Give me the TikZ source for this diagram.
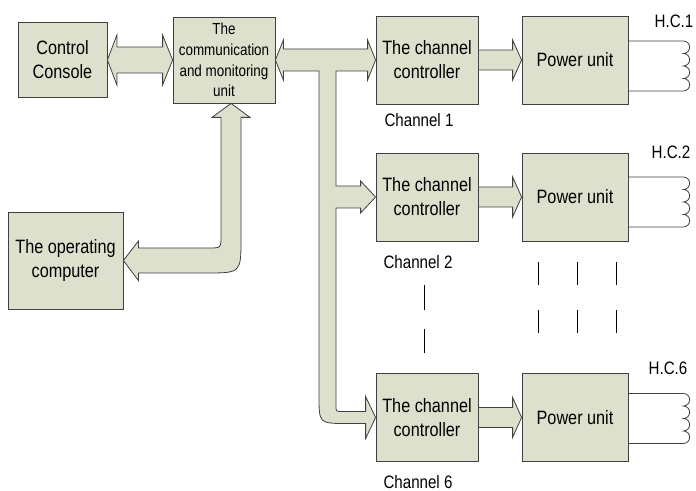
\documentclass[tikz,border=0pt]{standalone}
\usepackage{fontspec}
\usepackage{tikz}
\usetikzlibrary{calc}
\newfontfamily\boxfont[FakeStretch=0.84]{Liberation Sans}
\definecolor{BlockFill}{HTML}{DDE0CC}
\definecolor{EdgeGray}{HTML}{404040}

% block arrow from the east side of one box to the west side of the next
\newcommand{\feedarrow}[2]{%
  \draw[pipe] ($(#1.east)+(0,-10)$) -- ($(#2.west)+(-9,-10)$) -- ++(0,-10)
    -- (#2.west) -- ++(-9,20) -- ++(0,-10) -- ($(#1.east)+(0,10)$) -- cycle;}
% leads and winding of a heating coil
\newcommand{\heatcoil}[2]{%
  \draw[wire] ($(#1.east)+(0,#2)$) -- ++(55,0)
    arc[start angle=-90,end angle=90,radius=6.25]
    arc[start angle=-90,end angle=90,radius=6.25]
    arc[start angle=-90,end angle=90,radius=6.25]
    arc[start angle=-90,end angle=90,radius=6.25] -- ++(-55,0);}

\tikzset{
  unitbox/.style={draw=EdgeGray, fill=BlockFill, line width=0.6pt,
    align=center, inner sep=2pt, font=\boxfont\fontsize{14.5}{18}\selectfont},
  pipe/.style={draw=EdgeGray, fill=BlockFill, line width=0.6pt},
  wire/.style={draw=EdgeGray, line width=0.6pt},
  tag/.style={font=\boxfont\fontsize{13.5}{16}\selectfont},
  gap/.style={draw=black, line width=0.5pt}
}

\begin{document}
\begin{tikzpicture}[x=0.75pt, y=-0.75pt]
  \useasboundingbox (0,0) rectangle (696,491);

  % boxes
  \node[unitbox, minimum width=66.75pt, minimum height=56.25pt] (con) at (62.5,60) {Control\\Console};
  \node[unitbox, minimum width=76.5pt, minimum height=64.5pt,
    font=\boxfont\fontsize{12}{15.5}\selectfont] (com) at (224,60)
    {The\\communication\\and monitoring\\unit};
  \node[unitbox, minimum width=86.25pt, minimum height=72.75pt] (opc) at (65.5,260.5) {The operating\\computer};

  \node[unitbox, minimum width=76.5pt, minimum height=66pt] (cc1) at (427,60) {The channel\\controller};
  \node[unitbox, minimum width=76.5pt, minimum height=66pt] (cc2) at (427,197) {The channel\\controller};
  \node[unitbox, minimum width=76.5pt, minimum height=66pt] (cc6) at (427,417.5) {The channel\\controller};
  \node[unitbox, minimum width=79.5pt, minimum height=66pt] (pu1) at (575,60) {Power unit};
  \node[unitbox, minimum width=79.5pt, minimum height=66pt] (pu2) at (575,197) {Power unit};
  \node[unitbox, minimum width=79.5pt, minimum height=66pt] (pu6) at (575,417.5) {Power unit};

  % labels
  \node[tag] (ch1) at (419,120) {Channel 1};
  \node[tag] (ch2) at (418,262) {Channel 2};
  \node[tag] (ch6) at (418,482) {Channel 6};
  \node[tag] (hc1) at (674,21) {H.C.1};
  \node[tag] (hc2) at (671,152) {H.C.2};
  \node[tag] (hc6) at (668,368) {H.C.6};

  % console <-> communication unit
  \draw[pipe] (con.east) -- ++(9.5,-25) -- ++(0,12) -- ($(com.west)+(-10,-13)$) -- ++(0,-12)
    -- (com.west) -- ++(-10,25) -- ++(0,-12) -- ($(con.east)+(9.5,13)$) -- ++(0,12) -- cycle;

  % communication unit <-> channel controllers (bus)
  \coordinate (bus) at (327.5,60);
  \draw[pipe] (com.east) -- ++(8,-20) -- ++(0,9) -- ($(cc1.west)+(-8,-11)$) -- ++(0,-9)
    -- (cc1.west) -- ++(-8,20) -- ++(0,-9) -- ($(bus)+(8.5,11)$)
    -- ($(bus |- cc2.west)+(8.5,-11)$) -- ($(cc2.west)+(-15,-11)$) -- ++(0,-5)
    -- (cc2.west) -- ++(-15,16) -- ++(0,-5) -- ($(bus |- cc2.west)+(8.5,11)$)
    -- ($(bus |- cc6.west)+(8.5,-12)$)
    .. controls ($(bus |- cc6.west)+(8.5,-6)$) .. ($(bus |- cc6.west)+(14.5,-6)$)
    -- ($(cc6.west)+(-10,-6)$) -- ++(0,-15)
    -- (cc6.west) -- ++(-10,21) -- ++(0,-15) -- ($(bus |- cc6.west)+(19.5,6)$)
    .. controls ($(bus |- cc6.west)+(-8.5,6)$) .. ($(bus |- cc6.west)+(-8.5,-22)$)
    -- ($(bus)+(-8.5,11)$) -- ($(com.east)+(8,11)$) -- ++(0,9) -- cycle;

  % communication unit <-> operating computer
  \coordinate (upt) at ($(com.south)+(7,0)$);
  \draw[pipe] (upt) -- ++(19,14) -- ++(-9,0) -- ($(upt |- opc.east)+(10,-22)$)
    .. controls ($(upt |- opc.east)+(10,12.5)$) .. ($(upt |- opc.east)+(-25,12.5)$)
    -- ($(opc.east)+(15,12.5)$) -- ++(0,7.5) -- (opc.east) -- ++(15,-19.5) -- ++(0,7)
    -- ($(upt |- opc.east)+(-22,-12.5)$)
    .. controls ($(upt |- opc.east)+(-10,-12.5)$) .. ($(upt |- opc.east)+(-10,-24.5)$)
    -- ($(upt)+(-10,14)$) -- ++(-9,0) -- cycle;

  % controllers -> power units
  \feedarrow{cc1}{pu1}
  \feedarrow{cc2}{pu2}
  \feedarrow{cc6}{pu6}

  % heating coils
  \heatcoil{pu1}{-19}
  \heatcoil{pu2}{-20}
  \heatcoil{pu6}{-24}

  % omitted channels
  \draw[gap] (424,285) -- (424,310);
  \draw[gap] (424,329) -- (424,353);
  \foreach \x in {538,577,616} {
    \draw[gap] (\x,262) -- (\x,285);
    \draw[gap] (\x,310) -- (\x,333);
  }
\end{tikzpicture}
\end{document}
